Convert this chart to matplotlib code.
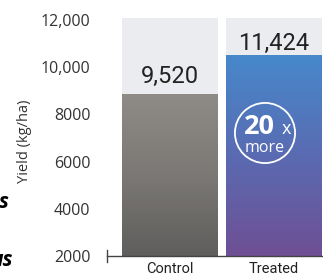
import numpy as np
import matplotlib
matplotlib.use("Agg")
import matplotlib.pyplot as plt
from matplotlib.colors import LinearSegmentedColormap
from matplotlib.patches import Circle

# data
groups = ["Control", "Treated"]
bar_tops = [8860, 10520]          # drawn bar heights (kg/ha)
bar_labels = ["9,520", "11,424"]  # printed values
y_ticks = [2000, 4000, 6000, 8000, 10000, 12000]
y_tick_labels = ["2000", "4000", "6000", "8000", "10,000", "12,000"]
base = 2000
top = 12080

W, H = 323, 280
fig = plt.figure(figsize=(W / 100, H / 100), dpi=100)
ax = fig.add_axes([107 / W, (H - 256) / H, (323 - 107) / W, (256 - 18) / H])

x = np.arange(len(groups))
width = 0.923

# light background panels
ax.bar(x, [top - base] * 2, width, bottom=base, color="#ebecef", zorder=1)

grads = [["#8f8b86", "#7b7875", "#5f5e5c"],
         ["#4689cb", "#5a6bb2", "#6f4f94"]]
bars = ax.bar(x, np.array(bar_tops) - base, width, bottom=base,
              color="none", zorder=2)
for b, cols in zip(bars, grads):
    cmap = LinearSegmentedColormap.from_list("g", cols)
    grad = np.linspace(0, 1, 256).reshape(-1, 1)
    x0 = b.get_x()
    im = ax.imshow(grad, cmap=cmap, aspect="auto", zorder=2,
                   extent=[x0, x0 + b.get_width(), base, b.get_y() + b.get_height()])
    im.set_clip_path(b)

label_gap = [470, 220]
for xi, t, lab, g in zip(x, bar_tops, bar_labels, label_gap):
    ax.text(xi, t + g, lab, ha="center", va="baseline", fontsize=17,
            family="Roboto", color="#222222", zorder=3)

# "20 x more" badge
badge = fig.add_axes([(265 - 31) / W, (H - 133 - 31) / H, 62 / W, 62 / H])
badge.set_xlim(-1, 1)
badge.set_ylim(-1, 1)
badge.axis("off")
badge.add_patch(Circle((0, 0), 0.97, fill=False, ec="white", lw=1.3))
badge.text(-0.68, -0.03, "20", color="white", fontsize=19.5, fontweight="bold",
           family="Open Sans", ha="left", va="baseline")
badge.text(0.55, -0.03, "x", color="white", fontsize=13, family="Open Sans",
           ha="left", va="baseline")
badge.text(0, -0.6, "more", color="white", fontsize=11.5, family="Open Sans",
           ha="center", va="baseline")

ax.set_xlim(-0.606, 1.471)
ax.set_ylim(base, top)
ax.set_yticks(y_ticks)
ax.set_yticklabels(y_tick_labels, family="Open Sans", fontsize=11.5, color="#333333")
ax.tick_params(axis="y", length=0, pad=12)
ax.set_xticks(x)
ax.set_xticklabels(groups, family="Roboto", fontsize=10.5, color="#222222")
ax.tick_params(axis="x", length=0, pad=4)
for s in ["top", "right", "left"]:
    ax.spines[s].set_visible(False)
ax.spines["bottom"].set_color("#444444")
ax.spines["bottom"].set_linewidth(1)
ax.plot([0, 0], [-0.025, 0.025], transform=ax.transAxes, color="#444444",
        lw=1, clip_on=False, zorder=5)

fig.text(25 / W, 1 - 141 / H, "Yield (kg/ha)", rotation=90, ha="center",
         va="center", family="Open Sans", fontsize=10.5, color="#333333")

# cut-off text at the left edge
fig.text(9 / W, 1 - 203 / H, "s", ha="right", va="center", fontsize=15,
         fontweight="bold", style="italic", family="Open Sans", color="black")
fig.text(13 / W, 1 - 260 / H, "us", ha="right", va="center", fontsize=15,
         fontweight="bold", style="italic", family="Open Sans", color="black")

fig.savefig("out.png", dpi=100)
